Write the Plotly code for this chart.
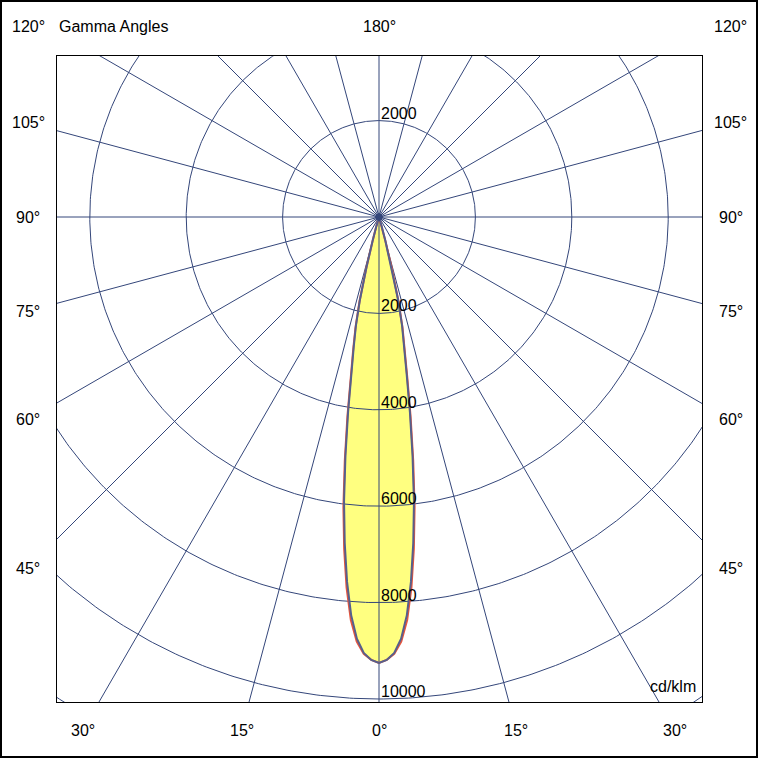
import numpy as np
import plotly.graph_objects as go

# polar diagram data, cd/klm per gamma angle
gamma = [0, 1, 2, 3, 4, 5, 6, 7, 8, 9, 10, 11, 12, 13, 14, 15, 16, 17, 18, 19, 20, 25, 30]
cd_c0_c180 = [9250, 9190, 9070, 8820, 8380, 7720, 6920, 6060, 5100, 4190, 3380,
              2810, 2350, 1800, 1090, 525, 210, 75, 22, 6, 0, 0, 0]
cd_c90_c270 = [9250, 9190, 9050, 8760, 8280, 7600, 6800, 5950, 5000, 4100, 3300,
               2750, 2300, 1750, 1050, 500, 200, 70, 20, 5, 0, 0, 0]

ring_values = [2000, 4000, 6000, 8000, 10000, 12000]
ring_labels = ["2000", "4000", "6000", "8000", "10000"]
ray_angles = list(range(0, 360, 15))
side_angles = [120, 105, 90, 75, 60, 45]
bottom_angles = [-30, -15, 0, 15, 30]

# pixel geometry of the picture
W = 760
L, R, T, B = 57, 702, 56, 702
CX, CY = 379, 217
PX = 48.2 / 1000  # pixels per cd/klm

grid_col = "#34467A"
font = "Liberation Sans, Arial, sans-serif"


def paper(px, py):
    return (px - L) / (R - L), (B - py) / (B - T)


def loop(values):
    g = np.radians(gamma)
    v = np.array(values, dtype=float)
    xs = list(-v[::-1] * np.sin(g[::-1])) + list(v[1:] * np.sin(g[1:]))
    ys = list(-v[::-1] * np.cos(g[::-1])) + list(-v[1:] * np.cos(g[1:]))
    return xs, ys


fig = go.Figure()

# yellow fill
fx, fy = loop(cd_c90_c270)
fig.add_trace(go.Scatter(x=fx, y=fy, mode="lines", fill="toself",
                         fillcolor="#FFFF80", line=dict(width=0),
                         hoverinfo="skip", showlegend=False))

# grid circles
t = np.linspace(0, 2 * np.pi, 721)
cx, cy = [], []
for r in ring_values:
    cx += list(r * np.cos(t)) + [None]
    cy += list(r * np.sin(t)) + [None]
fig.add_trace(go.Scatter(x=cx, y=cy, mode="lines",
                         line=dict(color=grid_col, width=1),
                         hoverinfo="skip", showlegend=False))

# grid rays
rx, ry = [], []
big = 20000
for a in ray_angles:
    ar = np.radians(a)
    rx += [0, big * np.sin(ar), None]
    ry += [0, -big * np.cos(ar), None]
fig.add_trace(go.Scatter(x=rx, y=ry, mode="lines",
                         line=dict(color=grid_col, width=1),
                         hoverinfo="skip", showlegend=False))

# curves
x1, y1 = loop(cd_c0_c180)
fig.add_trace(go.Scatter(x=x1, y=y1, mode="lines",
                         line=dict(color="#E8543C", width=2),
                         hoverinfo="skip", showlegend=False))
x2, y2 = loop(cd_c90_c270)
fig.add_trace(go.Scatter(x=x2, y=y2, mode="lines",
                         line=dict(color="#56608C", width=2),
                         hoverinfo="skip", showlegend=False))

fig.add_trace(go.Scatter(x=[0], y=[0], mode="markers",
                         marker=dict(color=grid_col, size=7, symbol="diamond"),
                         hoverinfo="skip", showlegend=False))

ann = []
# ring labels
ann.append(dict(x=0, y=ring_values[0], text=ring_labels[0], xref="x", yref="y",
                xanchor="left", yanchor="bottom", yshift=-3,
                showarrow=False, font=dict(size=16, color="black", family=font)))
for r, lab in zip(ring_values, ring_labels):
    ann.append(dict(x=0, y=-r, text=lab, xref="x", yref="y",
                    xanchor="left", yanchor="bottom", yshift=-3,
                    showarrow=False, font=dict(size=16, color="black", family=font)))


# angle labels
def add_label(px, py, text, anchor="center"):
    xp, yp = paper(px, py)
    ann.append(dict(x=xp, y=yp, text=text, xref="paper", yref="paper",
                    xanchor=anchor, yanchor="middle", showarrow=False,
                    font=dict(size=16, color="black", family=font)))


for a in side_angles:
    ar = np.radians(a)
    py = max(CY + 351 * np.cos(ar) / np.sin(ar), 27)
    add_label(28, py, f"{a}°")
    add_label(731, py, f"{a}°")
for a in bottom_angles:
    px = CX + 513 * np.tan(np.radians(a))
    add_label(px, 730, f"{abs(a)}°")
add_label(CX, 27, "180°")
add_label(57, 27, "Gamma Angles", "left")
add_label(698, 686, "cd/klm", "right")

x0p, y0p = paper(1, 1)
x1p, y1p = paper(757, 757)

fig.update_layout(
    width=W, height=W,
    margin=dict(l=L, r=W - R, t=T, b=W - B),
    paper_bgcolor="white", plot_bgcolor="white",
    annotations=ann,
    shapes=[dict(type="rect", xref="paper", yref="paper",
                 x0=x0p, y0=y1p, x1=x1p, y1=y0p,
                 line=dict(color="black", width=2), layer="above")],
)
fig.update_xaxes(range=[(L - CX) / PX, (R - CX) / PX], showgrid=False,
                 zeroline=False, showticklabels=False, ticks="",
                 showline=True, mirror=True, linecolor="black", linewidth=1)
fig.update_yaxes(range=[-(B - CY) / PX, (CY - T) / PX], showgrid=False,
                 zeroline=False, showticklabels=False, ticks="",
                 showline=True, mirror=True, linecolor="black", linewidth=1)

# page body has a default margin, drop it so the figure sits at 0,0
fig.write_html("out.html", config={"displayModeBar": False},
               post_script="document.body.style.margin = '0';")
